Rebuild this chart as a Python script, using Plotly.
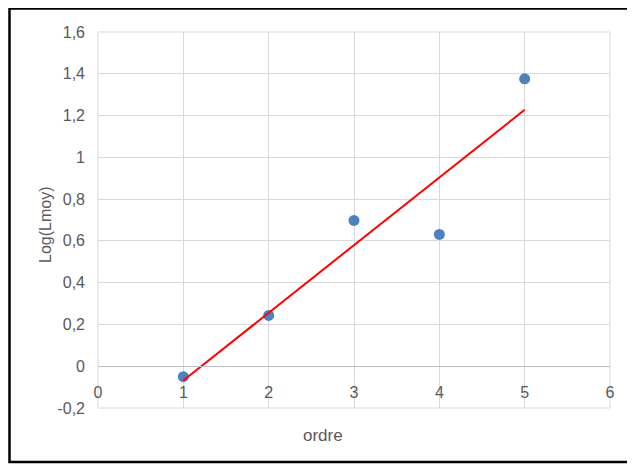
import numpy as np
import plotly.graph_objects as go

ordre = [1, 2, 3, 4, 5]
log_lmoy = [-0.05, 0.243, 0.698, 0.631, 1.376]

x_ticks = [0, 1, 2, 3, 4, 5, 6]
x_ticktext = ["0", "1", "2", "3", "4", "5", "6"]
y_ticks = [-0.2, 0, 0.2, 0.4, 0.6, 0.8, 1.0, 1.2, 1.4, 1.6]
y_ticktext = ["-0,2", "0", "0,2", "0,4", "0,6", "0,8", "1", "1,2", "1,4", "1,6"]

slope, intercept = np.polyfit(ordre, log_lmoy, 1)
trend_x = [ordre[0], ordre[-1]]
trend_y = [slope * v + intercept for v in trend_x]

FONT = "Liberation Sans, Arial, sans-serif"
GRAY = "#595959"

fig = go.Figure()
fig.add_trace(go.Scatter(x=ordre, y=log_lmoy, mode="markers",
                         marker=dict(color="#4F81BD", size=11), showlegend=False))
fig.add_trace(go.Scatter(x=trend_x, y=trend_y, mode="lines",
                         line=dict(color="#FF0000", width=2), showlegend=False))

# page body has an 8px margin: work in figure coordinates
OFF = 8
W, H = 635 - OFF, 464 - OFF
ML, MT = 98 - OFF, 32 - OFF
MR = W - (610 - OFF)
MB = H - (408 - OFF)
pw, ph = W - ML - MR, H - MT - MB


def px_x(wx):
    return (wx - OFF - ML) / pw


def px_y(wy):
    return (H - MB - (wy - OFF)) / ph


fig.update_layout(
    width=W, height=H,
    margin=dict(l=ML, r=MR, t=MT, b=MB),
    plot_bgcolor="white", paper_bgcolor="white",
    font=dict(family=FONT, color=GRAY, size=16),
    xaxis=dict(range=[0, 6], tickvals=x_ticks, ticktext=x_ticktext,
               showgrid=True, gridcolor="#D9D9D9", gridwidth=1,
               zeroline=False, showline=True, linecolor="#BFBFBF", linewidth=1,
               anchor="free", position=1/9, ticks="", ticklabelstandoff=12,
               tickfont=dict(size=16, family=FONT, color=GRAY)),
    yaxis=dict(range=[-0.2, 1.6], tickvals=y_ticks, ticktext=y_ticktext,
               showgrid=True, gridcolor="#D9D9D9", gridwidth=1,
               zeroline=False, showline=False, ticks="", ticklabelstandoff=12,
               tickfont=dict(size=16, family=FONT, color=GRAY)),
    shapes=[
        dict(type="rect", xref="paper", yref="paper",
             x0=0, x1=1, y0=0, y1=1, line=dict(color="#D9D9D9", width=1), layer="below"),
        dict(type="rect", xref="paper", yref="paper",
             x0=px_x(9.5), x1=px_x(632), y0=px_y(462), y1=px_y(8.5),
             line=dict(color="black", width=2.5)),
    ],
    annotations=[
        dict(text="ordre", xref="paper", yref="paper",
             x=px_x(323), y=px_y(435), xanchor="center", yanchor="middle",
             showarrow=False, font=dict(size=17, family=FONT, color=GRAY)),
        dict(text="Log(Lmoy)", xref="paper", yref="paper",
             x=px_x(45), y=px_y(225), xanchor="center", yanchor="middle",
             showarrow=False, textangle=-90,
             font=dict(size=16, family=FONT, color=GRAY)),
    ],
)

fig.write_html("out.html")
